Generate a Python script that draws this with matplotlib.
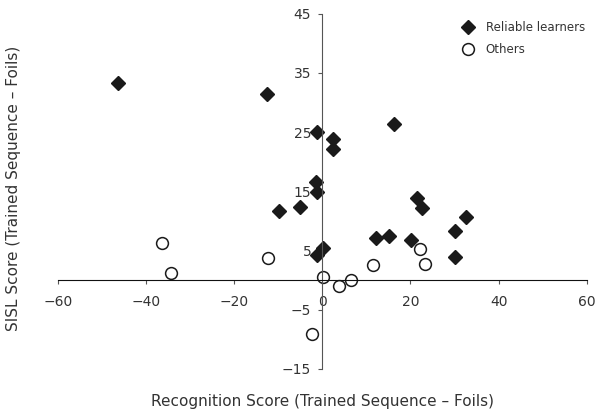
import matplotlib
matplotlib.use('Agg')
import matplotlib.pyplot as plt

# reliable learners (filled diamonds)
rel_x = [-46.4, -12.5, -1.25, 2.4, 2.5, 16.3, -1.4, -1.2, -9.9, -5.0,
         21.4, 22.6, 32.6, 30.2, 12.1, 15.1, 20.1, 30.0, 0.1, -1.2]
rel_y = [33.3, 31.4, 25.0, 23.8, 22.1, 26.3, 16.6, 14.8, 11.7, 12.3,
         13.8, 12.1, 10.6, 8.3, 7.1, 7.4, 6.8, 3.8, 5.4, 4.2]

# others (open circles)
oth_x = [-36.4, -34.4, -12.4, 0.05, 3.7, 6.4, 11.4, 22.1, 23.3, -2.45]
oth_y = [6.25, 1.2, 3.7, 0.45, -1.1, 0.0, 2.5, 5.2, 2.65, -9.2]

x_ticks = [-60, -40, -20, 0, 20, 40, 60]
y_ticks = [-15, -5, 5, 15, 25, 35, 45]

txt = '#333333'
plt.rcParams['font.family'] = 'DejaVu Sans'

fig = plt.figure(figsize=(6.03, 4.18), dpi=100)
ax = fig.add_axes([0.096, 0.118, 0.877, 0.849])

ax.plot(rel_x, rel_y, 'D', color='#1a1a1a', markersize=7.5, label='Reliable learners')
ax.plot(oth_x, oth_y, 'o', markerfacecolor='white', markeredgecolor='#1a1a1a',
        markeredgewidth=1.1, markersize=8.5, label='Others')

ax.set_xlim(-60, 60)
ax.set_ylim(-15, 45)
ax.set_xticks(x_ticks)
ax.set_yticks(y_ticks)
ax.set_xticklabels(['\u2212' + str(-t) if t < 0 else str(t) for t in x_ticks])
ax.set_yticklabels(['\u2212' + str(-t) if t < 0 else str(t) for t in y_ticks])

ax.spines['left'].set_position(('data', 0))
ax.spines['bottom'].set_position(('data', 0))
ax.spines['right'].set_visible(False)
ax.spines['top'].set_visible(False)
ax.spines['left'].set_color('#555555')
ax.spines['bottom'].set_color('#111111')
ax.tick_params(direction='out', length=3, width=0.8, colors='#555555',
               labelcolor=txt, labelsize=10)
ax.tick_params(axis='x', pad=8)
ax.tick_params(axis='y', pad=5)

ax.legend(loc='upper right', bbox_to_anchor=(1.01, 1.0), frameon=False,
          fontsize=8.5, handletextpad=0.5, labelspacing=0.8, labelcolor=txt,
          borderaxespad=0.2)

fig.text(0.535, 0.04, 'Recognition Score (Trained Sequence \u2013 Foils)',
         ha='center', va='center', fontsize=11, color=txt)
fig.text(0.022, 0.55, 'SISL Score (Trained Sequence \u2013 Foils)',
         ha='center', va='center', rotation=90, fontsize=11, color=txt)

fig.savefig('out.png', dpi=100)
